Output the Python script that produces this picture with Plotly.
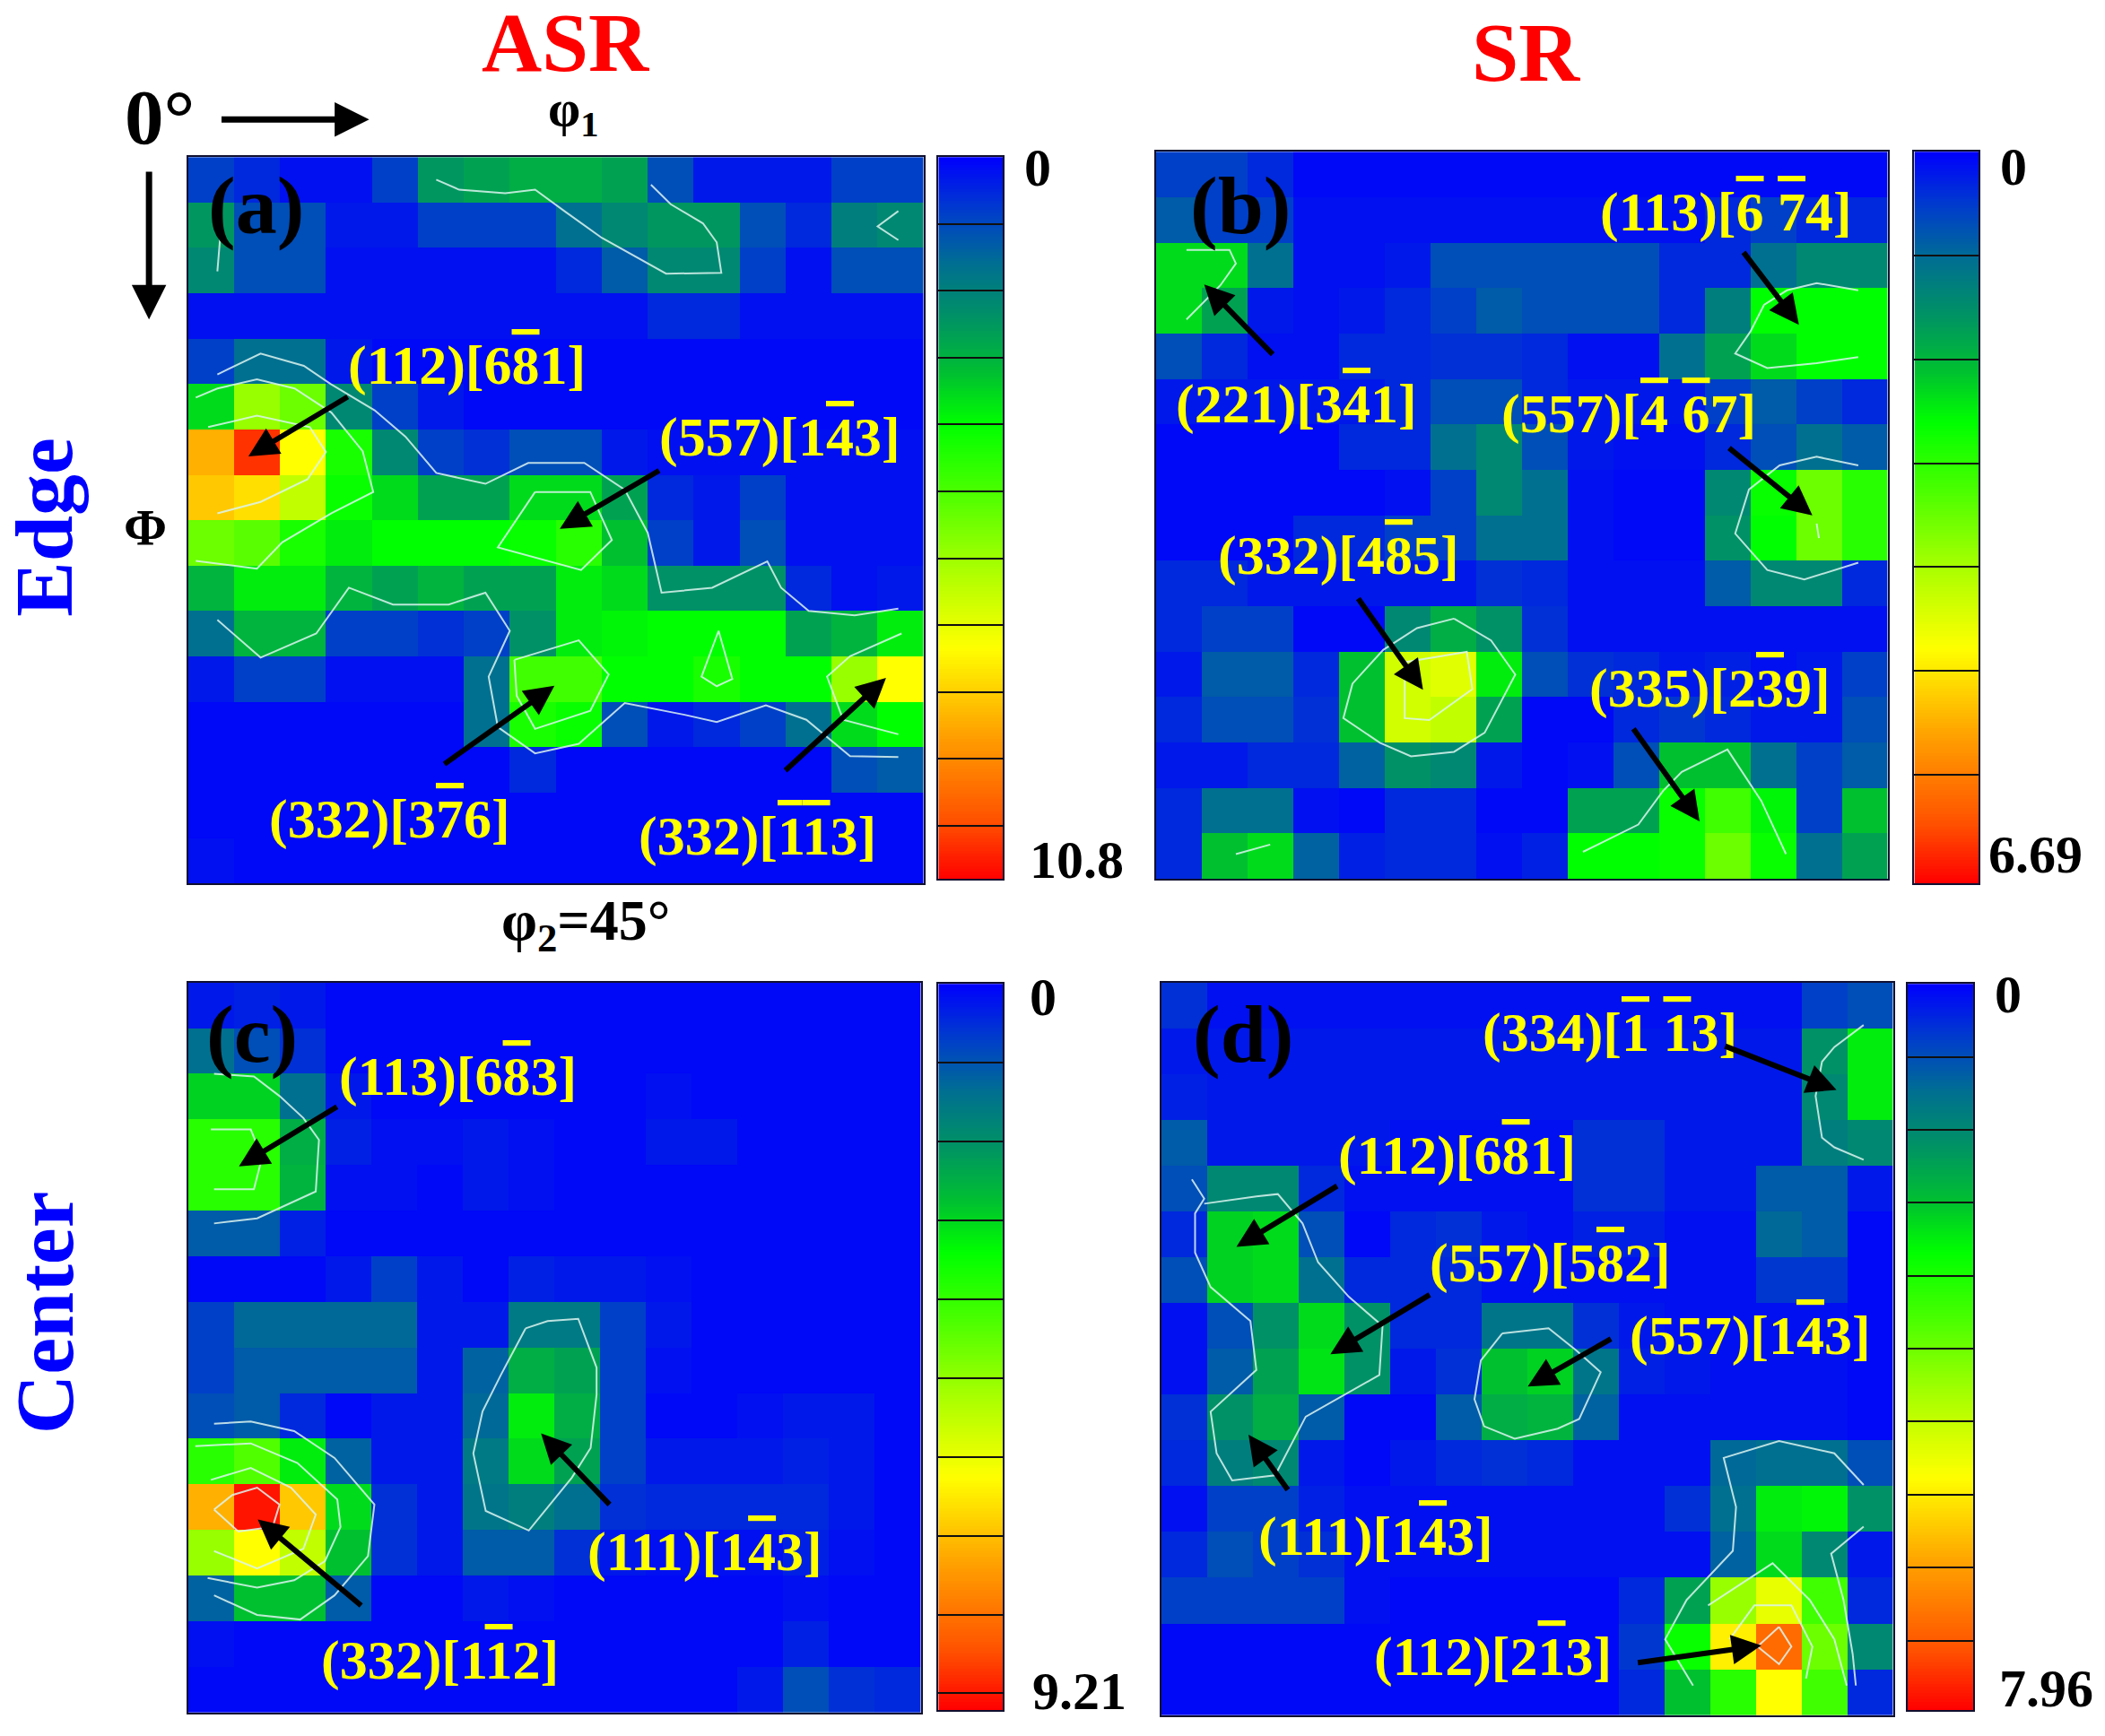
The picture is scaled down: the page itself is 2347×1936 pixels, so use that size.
import numpy as np
import plotly.graph_objects as go

# pole figure cells, read as a fraction of each colour bar (16 x 16, top row first)
a_z = [
    [.08, .05, .02, .02, .08, .23, .25, .27, .27, .25, .10, .03, .03, .03, .08, .08],
    [.23, .10, .10, .03, .03, .08, .08, .08, .15, .20, .23, .23, .10, .05, .18, .20],
    [.20, .10, .10, .02, .02, .02, .02, .02, .05, .12, .20, .20, .08, .02, .10, .10],
    [.02, .02, .02, .02, .02, .02, .02, .02, .02, .02, .05, .05, .02, .02, .02, .02],
    [.08, .15, .15, .03, .01, .01, .01, .01, .01, .01, .01, .01, .01, .01, .01, .01],
    [.33, .55, .50, .20, .08, .03, .01, .01, .01, .01, .01, .01, .01, .01, .01, .01],
    [.78, .95, .68, .40, .20, .08, .06, .10, .10, .03, .02, .02, .02, .02, .02, .02],
    [.75, .72, .60, .38, .33, .25, .25, .33, .33, .25, .05, .03, .08, .02, .02, .02],
    [.50, .48, .40, .35, .37, .37, .37, .38, .42, .30, .08, .03, .10, .02, .02, .02],
    [.28, .35, .35, .28, .25, .28, .25, .25, .35, .33, .22, .22, .22, .05, .02, .03],
    [.15, .28, .28, .08, .08, .06, .08, .22, .35, .36, .37, .37, .37, .25, .28, .35],
    [.03, .08, .08, .02, .02, .02, .15, .45, .45, .37, .37, .40, .37, .37, .55, .68],
    [.01, .01, .01, .01, .01, .01, .15, .40, .38, .10, .03, .05, .08, .15, .33, .37],
    [.01, .01, .01, .01, .01, .01, .01, .05, .01, .01, .01, .01, .01, .01, .10, .12],
    [.01, .01, .01, .01, .01, .01, .01, .01, .01, .01, .01, .01, .01, .01, .01, .01],
    [.02, .01, .01, .01, .01, .01, .01, .01, .01, .01, .01, .01, .01, .01, .01, .01],
]
b_z = [
    [.08, .08, .05, .01, .01, .01, .01, .01, .01, .01, .01, .01, .01, .01, .01, .01],
    [.12, .08, .08, .02, .02, .02, .02, .02, .02, .02, .02, .02, .05, .08, .05, .05],
    [.33, .33, .15, .02, .02, .03, .10, .10, .10, .10, .10, .05, .05, .15, .20, .20],
    [.33, .25, .03, .02, .03, .05, .08, .12, .10, .10, .10, .05, .18, .37, .37, .37],
    [.10, .05, .02, .02, .05, .05, .06, .06, .05, .02, .02, .15, .25, .33, .37, .37],
    [.03, .03, .03, .03, .03, .05, .10, .10, .05, .03, .03, .03, .08, .12, .08, .05],
    [.01, .01, .01, .01, .05, .05, .15, .20, .10, .03, .02, .02, .05, .10, .15, .12],
    [.01, .01, .01, .01, .01, .02, .08, .20, .15, .02, .01, .01, .20, .38, .50, .42],
    [.01, .01, .01, .05, .05, .08, .08, .15, .15, .02, .01, .01, .22, .37, .50, .42],
    [.05, .05, .03, .03, .03, .03, .03, .06, .05, .02, .02, .02, .12, .20, .20, .05],
    [.05, .08, .08, .01, .01, .20, .27, .22, .06, .02, .02, .02, .02, .02, .02, .02],
    [.03, .12, .12, .05, .30, .62, .64, .35, .10, .06, .05, .03, .04, .02, .03, .08],
    [.05, .10, .10, .06, .30, .62, .60, .25, .01, .01, .05, .07, .05, .03, .03, .10],
    [.03, .03, .05, .05, .13, .22, .20, .03, .01, .02, .10, .30, .30, .15, .08, .12],
    [.05, .15, .15, .02, .01, .05, .05, .01, .01, .25, .25, .38, .45, .36, .08, .30],
    [.05, .30, .33, .13, .04, .05, .05, .02, .04, .37, .37, .38, .50, .38, .15, .25],
]
c_z = [
    [.03, .04, .03, .01, .01, .01, .01, .01, .01, .01, .01, .01, .01, .01, .01, .01],
    [.15, .10, .06, .01, .01, .01, .01, .01, .01, .01, .01, .01, .01, .01, .01, .01],
    [.32, .32, .15, .03, .01, .01, .01, .01, .01, .01, .02, .01, .01, .01, .01, .01],
    [.42, .42, .27, .04, .02, .02, .03, .02, .01, .01, .03, .03, .01, .01, .01, .01],
    [.42, .42, .28, .02, .02, .01, .03, .02, .01, .01, .01, .01, .01, .01, .01, .01],
    [.12, .12, .04, .01, .01, .01, .01, .01, .01, .01, .01, .01, .01, .01, .01, .01],
    [.01, .01, .01, .03, .08, .03, .01, .04, .03, .03, .02, .01, .01, .01, .01, .01],
    [.08, .14, .14, .14, .14, .03, .03, .17, .17, .08, .03, .01, .01, .01, .01, .01],
    [.08, .12, .12, .12, .12, .03, .13, .27, .25, .08, .02, .01, .01, .01, .01, .01],
    [.10, .12, .05, .01, .03, .03, .14, .35, .27, .08, .01, .01, .02, .03, .03, .01],
    [.42, .47, .35, .13, .03, .03, .17, .33, .25, .08, .03, .03, .03, .04, .03, .01],
    [.78, .98, .75, .33, .06, .03, .16, .18, .15, .06, .05, .05, .05, .05, .03, .01],
    [.55, .68, .60, .30, .06, .03, .12, .12, .06, .03, .02, .02, .02, .04, .02, .01],
    [.13, .30, .30, .12, .01, .01, .03, .02, .01, .01, .01, .01, .01, .02, .01, .01],
    [.02, .01, .01, .01, .01, .01, .01, .01, .01, .01, .01, .01, .01, .04, .01, .01],
    [.01, .01, .01, .01, .01, .01, .01, .01, .01, .01, .01, .01, .03, .10, .06, .05],
]
d_z = [
    [.06, .02, .02, .02, .02, .02, .02, .02, .02, .02, .02, .02, .02, .02, .08, .10],
    [.03, .03, .03, .03, .03, .03, .03, .03, .03, .03, .03, .03, .03, .03, .22, .35],
    [.04, .03, .03, .03, .03, .03, .03, .03, .03, .03, .03, .03, .03, .03, .20, .35],
    [.12, .03, .03, .03, .03, .02, .02, .02, .02, .06, .06, .03, .03, .03, .18, .20],
    [.10, .20, .20, .05, .02, .02, .02, .02, .02, .06, .06, .03, .03, .12, .12, .03],
    [.05, .32, .33, .10, .01, .05, .06, .03, .02, .04, .04, .02, .02, .14, .12, .01],
    [.10, .32, .33, .15, .05, .05, .05, .02, .02, .02, .02, .02, .02, .07, .07, .01],
    [.02, .10, .22, .33, .22, .05, .05, .16, .16, .06, .03, .02, .02, .02, .02, .01],
    [.02, .12, .25, .34, .22, .03, .06, .30, .32, .16, .04, .03, .02, .02, .02, .01],
    [.06, .22, .27, .12, .01, .01, .12, .27, .28, .13, .02, .02, .02, .02, .02, .01],
    [.05, .18, .20, .03, .01, .03, .05, .06, .05, .02, .02, .02, .14, .15, .15, .10],
    [.02, .08, .08, .04, .02, .02, .02, .02, .02, .02, .02, .06, .15, .35, .36, .22],
    [.05, .10, .08, .06, .02, .02, .02, .02, .02, .02, .02, .02, .13, .33, .20, .03],
    [.08, .08, .08, .08, .02, .01, .01, .01, .01, .01, .05, .25, .55, .65, .45, .05],
    [.01, .01, .01, .01, .01, .01, .01, .01, .01, .01, .07, .38, .70, .88, .50, .20],
    [.01, .01, .01, .01, .01, .01, .01, .01, .01, .01, .05, .30, .42, .68, .45, .05],
]

a_max, b_max, c_max, d_max = 10.8, 6.69, 9.21, 7.96

# black band lines on the colour bars
a_levels = [1, 2, 3, 4, 5, 6, 7, 8, 9, 10]
b_levels = [.95, 1.9, 2.85, 3.8, 4.75, 5.7]
c_levels = [1, 2, 3, 4, 5, 6, 7, 8, 9]
d_levels = [.8, 1.6, 2.4, 3.2, 4.0, 4.8, 5.6, 6.4, 7.2]

# white iso-lines, (column, row)
a_lines = [
    [(5.4, .5), (5.9, .72), (6.9, .8), (7.55, .72), (8.2, 1.2), (9, 1.78), (10.4, 2.57), (11.6, 2.55), (11.5, 1.88), (11.2, 1.46), (10.5, 1.04), (10.07, .61)],
    [(15.45, 1.19), (15, 1.53), (15.45, 1.83)],
    [(.64, 2.52), (.7, 1.78)],
    [(.64, 4.79), (1.58, 4.33), (2.52, 4.6), (3.1, 5), (4.06, 5.58), (4.73, 6.16), (5.4, 6.96), (6.47, 7.2), (7.4, 6.74), (8.62, 6.74), (9.5, 7.33), (10, 8.28), (10.3, 9.6), (11.4, 9.49), (12.6, 8.91), (12.9, 9.49), (13.5, 10), (14.5, 10.1), (15.45, 9.95)],
    [(.64, 10.2), (1.58, 11.03), (2.79, 10.5), (3.5, 9.49), (4.46, 9.86), (5.67, 9.86), (6.47, 9.6), (7, 10.44), (6.54, 11.45), (6.74, 12.56), (7.55, 13.14), (8.5, 12.93), (9.5, 12.03), (10.8, 12.29), (11.5, 12.45), (12.57, 12.08), (13.45, 12.4), (14.4, 13.2), (15.45, 13.22)],
    [(.17, 8.9), (1.5, 9.07), (2.05, 8.49), (3.12, 7.85), (4.03, 7.38), (3.8, 6.48), (3.12, 5.63), (2.32, 5.1), (1.5, 4.9), (.64, 5.1), (.17, 5.3)],
    [(.64, 7.85), (1.58, 7.6), (2.6, 7.1), (3, 6.5), (2.65, 5.95), (1.5, 5.7), (.44, 5.95)],
    [(7.55, 7.38), (8.75, 7.38), (9.22, 8.44), (8.55, 9.1), (6.74, 8.6), (7.55, 7.38)],
    [(7.1, 11.08), (8.5, 10.65), (9.15, 11.4), (8.75, 12.2), (7.55, 12.6), (7.15, 11.87), (7.1, 11.08)],
    [(11.54, 10.44), (11.84, 11.5), (11.5, 11.66), (11.17, 11.45), (11.54, 10.44)],
    [(15.52, 10.5), (14.4, 11), (13.9, 11.45), (14.25, 12.4), (15.45, 12.72)],
]
b_lines = [
    [(.67, 2.16), (1.61, 2.16), (1.75, 2.46), (1.41, 2.94), (.67, 3.69)],
    [(15.36, 3.05), (14.45, 2.89), (13.8, 3.05), (13.3, 3.37), (13, 3.96), (12.67, 4.44), (13.37, 4.76), (14.45, 4.65), (15.36, 4.52)],
    [(15.36, 6.9), (14.45, 6.71), (13.64, 6.9), (12.97, 7.43), (12.67, 8.4), (13.37, 9.2), (14.18, 9.41), (15.36, 9.04)],
    [(14.45, 8.18), (14.5, 8.5)],
    [(6.52, 10.27), (5.71, 10.48), (4.97, 10.96), (4.3, 11.7), (4.1, 12.46), (4.9, 13), (5.58, 13.3), (6.52, 13.2), (7.19, 12.78), (7.86, 11.5), (7.33, 10.75), (6.52, 10.27)],
    [(5.44, 11.23), (6.8, 11), (6.92, 11.82), (5.98, 12.5), (5.44, 12.46), (5.44, 11.23)],
    [(9.34, 15.4), (10.55, 14.8), (11.09, 14.06), (11.5, 13.64), (12.5, 13.15), (13.24, 14.28), (13.78, 15.45)],
    [(1.75, 15.45), (2.5, 15.24)],
]
c_lines = [
    [(.57, 2), (1.44, 2.06), (2, 2.49), (2.52, 2.97), (2.86, 3.45), (2.79, 4.58), (1.51, 5.17), (.57, 5.28)],
    [(.5, 3.22), (1.37, 3.22), (1.62, 3.83), (1.44, 4.53), (.57, 4.53)],
    [(7.37, 7.58), (7.85, 7.42), (8.52, 7.37), (8.92, 8.44), (8.92, 9.03), (8.79, 10.2), (8.38, 10.85), (7.44, 12.01), (6.5, 11.58), (6.23, 10.32), (6.43, 9.4), (6.83, 8.6), (7.37, 7.58)],
    [(.57, 9.67), (1.37, 9.62), (2.32, 9.83), (3.2, 10.42), (4.07, 11.44), (3.93, 12.57), (3.2, 13.43), (2.45, 13.96), (1.51, 13.86), (.57, 13.43)],
    [(.16, 10.16), (1.37, 10.1), (2.39, 10.53), (3.26, 11.33), (3.33, 11.93), (2.99, 12.68), (2.32, 13.1), (1.51, 13.26), (.43, 13.05)],
    [(.5, 10.9), (1.37, 10.64), (2.25, 11.07), (2.79, 11.66), (2.52, 12.41), (1.51, 12.84), (.57, 12.46)],
    [(.57, 11.55), (.97, 11.23), (1.51, 11.07), (2, 11.44), (1.85, 11.93), (1.1, 12.03), (.57, 11.55)],
]
d_lines = [
    [(15.36, .93), (14.72, 1.41), (14.45, 1.73), (14.31, 2.48), (14.45, 3.39), (14.72, 3.6), (15.36, 3.87)],
    [(.67, 4.3), (.94, 4.72), (.74, 5.04), (.74, 5.9), (1.08, 6.65), (1.95, 7.39), (2.08, 8.46), (1.08, 9.37), (1.21, 10.28), (1.55, 10.87), (2.49, 10.76), (3.16, 9.48), (4.77, 8.57), (4.84, 7.5), (4.1, 6.86), (3.43, 6.11), (3.09, 5.26), (2.55, 4.62), (2.08, 4.67), (.94, 4.83)],
    [(7.46, 7.66), (8.47, 7.55), (9.07, 8.03), (9.61, 8.51), (9.14, 9.53), (8.67, 9.74), (7.73, 9.96), (7.06, 9.69), (6.85, 9.1), (6.99, 8.25), (7.46, 7.66)],
    [(15.36, 10.97), (14.72, 10.28), (13.51, 10.01), (12.3, 10.38), (12.57, 11.45), (12.5, 12.41), (11.49, 13.48), (11.02, 14.34), (11.63, 15.35)],
    [(15.36, 11.88), (14.65, 12.47), (14.92, 13.48), (15.12, 14.66), (15.19, 15.35)],
    [(11.96, 13.6), (13.37, 12.68), (14.18, 13.48), (14.72, 14.34), (14.99, 15.35)],
    [(12.43, 14.34), (12.97, 13.6), (13.78, 13.6), (14.24, 14.5), (14.1, 15.2)],
    [(13.51, 14.07), (13.78, 14.5), (13.51, 14.88), (13.04, 14.5), (13.51, 14.07)],
]

W, H = 2347, 1936
S = W / 1568  # positions below were measured on the picture at 1568 wide

jet = [
    [0, "#0000ff"], [.08, "#0040c8"], [.15, "#007090"], [.23, "#009660"],
    [.30, "#00c030"], [.37, "#00ff00"], [.47, "#50ff00"], [.57, "#aaff00"],
    [.68, "#ffff00"], [.80, "#ffa000"], [.92, "#ff5000"], [1, "#ff0000"],
]


def px(x):
    return x * S / W


def py(y):
    return 1 - y * S / H


def bar(txt):
    return '<span style="text-decoration:overline;text-decoration-thickness:4px">%s</span>' % txt


fig = go.Figure()
cells = [i + .5 for i in range(16)]
layout = {}
panels = [
    (a_z, a_max, a_levels, a_lines, (140, 688, 117, 658), (699, 747, 117, 655)),
    (b_z, b_max, b_levels, b_lines, (861, 1406, 113, 655), (1426, 1474, 113, 658)),
    (c_z, c_max, c_levels, c_lines, (140, 686, 732, 1276), (699, 747, 733, 1274)),
    (d_z, d_max, d_levels, d_lines, (865, 1410, 732, 1278), (1421, 1470, 733, 1274)),
]

for i, (z, zmax, levels, lines, box, cb) in enumerate(panels):
    n = 2 * i + 1
    m = 2 * i + 2
    fig.add_trace(go.Heatmap(z=(np.array(z) * zmax).tolist(), x=cells, y=cells, zmin=0, zmax=zmax,
                             colorscale=jet, showscale=False, xaxis="x%d" % n, yaxis="y%d" % n))
    for line in lines:
        fig.add_trace(go.Scatter(x=[p[0] for p in line], y=[p[1] for p in line], mode="lines",
                                 line=dict(color="rgba(220,245,240,0.85)", width=2), showlegend=False,
                                 xaxis="x%d" % n, yaxis="y%d" % n))
    frame = dict(showline=True, mirror=True, linecolor="#101030", linewidth=2,
                 showgrid=False, zeroline=False, showticklabels=False, ticks="")
    layout["xaxis%d" % n] = dict(frame, domain=[px(box[0]), px(box[1])], range=[0, 16], anchor="y%d" % n)
    layout["yaxis%d" % n] = dict(frame, domain=[py(box[3]), py(box[2])], range=[16, 0], anchor="x%d" % n)

    # colour bar is its own little heatmap so 0 can sit on top
    ramp = np.linspace(0, zmax, 240)
    fig.add_trace(go.Heatmap(z=[[v] for v in ramp], x=[0], y=ramp, zmin=0, zmax=zmax,
                             colorscale=jet, showscale=False, xaxis="x%d" % m, yaxis="y%d" % m))
    layout["xaxis%d" % m] = dict(frame, domain=[px(cb[0]), px(cb[1])], anchor="y%d" % m)
    layout["yaxis%d" % m] = dict(frame, domain=[py(cb[3]), py(cb[2])], range=[zmax, 0], anchor="x%d" % m,
                                 tickmode="array", tickvals=levels, ticks="inside",
                                 ticklen=(cb[1] - cb[0]) * S, tickwidth=2, tickcolor="#101010")

notes = []


def text(txt, x, y, size, color="black", angle=0, bold=True):
    notes.append(dict(text="<b>%s</b>" % txt if bold else txt, x=px(x), y=py(y), xref="paper", yref="paper",
                      showarrow=False, textangle=angle, xanchor="center", yanchor="middle",
                      font=dict(family="Liberation Serif", size=size, color=color)))


def arrow(x0, y0, x1, y1, width=6):
    notes.append(dict(text="", x=px(x1), y=py(y1), xref="paper", yref="paper",
                      ax=(x0 - x1) * S, ay=(y0 - y1) * S, showarrow=True, arrowhead=2,
                      arrowsize=1.1, arrowwidth=width, arrowcolor="black", standoff=0))


labels = [
    ("(112)[6%s1]" % bar("8"), 348, 272), ("(557)[1%s3]" % bar("4"), 581, 326),
    ("(332)[3%s6]" % bar("7"), 290, 610), ("(332)[%s%s3]" % (bar("1"), bar("1")), 564, 623),
    ("(113)[%s %s4]" % (bar("6"), bar("7")), 1286, 158), ("(221)[3%s1]" % bar("4"), 966, 301),
    ("(557)[%s %s7]" % (bar("4"), bar("6")), 1213, 308), ("(332)[4%s5]" % bar("8"), 997, 414),
    ("(335)[2%s9]" % bar("3"), 1274, 513),
    ("(113)[6%s3]" % bar("8"), 341, 802), ("(111)[1%s3]" % bar("4"), 525, 1156),
    ("(332)[1%s2]" % bar("1"), 328, 1237),
    ("(334)[%s %s3]" % (bar("1"), bar("1")), 1199, 769), ("(112)[6%s1]" % bar("8"), 1085, 861),
    ("(557)[5%s2]" % bar("8"), 1155, 941), ("(557)[1%s3]" % bar("4"), 1304, 995),
    ("(111)[1%s3]" % bar("4"), 1025, 1145), ("(112)[2%s3]" % bar("1"), 1112, 1234),
]
for txt, x, y in labels:
    text(txt, x, y, 62, "#ffff00")

for x0, y0, x1, y1 in [
    (260, 295, 185, 340), (492, 350, 417, 394), (330, 570, 413, 511), (584, 575, 660, 505),
    (949, 265, 897, 212), (1298, 187, 1340, 242), (1287, 333, 1350, 384), (1011, 445, 1060, 514), (1216, 542, 1266, 612),
    (252, 824, 178, 869), (455, 1122, 403, 1068), (270, 1197, 192, 1132),
    (1284, 779, 1368, 812), (997, 883, 921, 929), (1066, 964, 991, 1009), (1201, 997, 1138, 1033),
    (960, 1111, 930, 1069), (1219, 1239, 1312, 1226),
]:
    arrow(x0, y0, x1, y1)
arrow(164, 89, 275, 89, width=7)
arrow(111, 127, 111, 238, width=7)

text("ASR", 421, 32, 93, "#ff0000")
text("SR", 1137, 39, 94, "#ff0000")
text("Edge", 33, 393, 92, "#0000ff", angle=-90)
text("Center", 33, 978, 92, "#0000ff", angle=-90)
text("0°", 119, 87, 87)
text("φ<sub>1</sub>", 427, 83, 58)
text("φ<sub>2</sub>=45°", 436, 689, 64)
text("Φ", 108, 393, 58)
text("(a)", 191, 153, 92)
text("(b)", 924, 153, 92)
text("(c)", 188, 770, 92)
text("(d)", 926, 770, 92)
for txt, x, y in [("0", 773, 125), ("10.8", 802, 641), ("0", 1500, 124), ("6.69", 1516, 637),
                  ("0", 777, 743), ("9.21", 804, 1260), ("0", 1496, 741), ("7.96", 1524, 1258)]:
    text(txt, x, y, 60)

fig.update_layout(width=W, height=H, margin=dict(l=0, r=0, t=0, b=0), paper_bgcolor="white",
                  plot_bgcolor="white", showlegend=False, annotations=notes, **layout)

fig.write_html("out.html", config={"displayModeBar": False}, post_script="document.body.style.margin='0';")
